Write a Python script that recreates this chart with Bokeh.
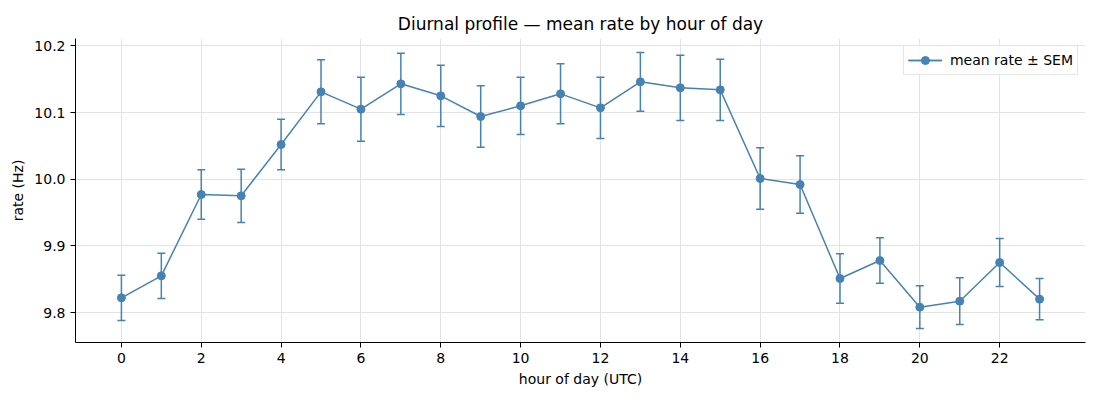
import numpy as np
from bokeh.plotting import figure
from bokeh.models import ColumnDataSource, FixedTicker, Range1d, Legend, LegendItem, NumeralTickFormatter
from bokeh.embed import file_html
from bokeh.resources import INLINE

hours = list(range(24))
mean_rate = [9.822, 9.855, 9.977, 9.975, 10.052, 10.131, 10.105, 10.143, 10.125, 10.094,
             10.110, 10.128, 10.107, 10.146, 10.137, 10.134, 10.001, 9.992, 9.851, 9.878,
             9.808, 9.817, 9.875, 9.820]
sem = [0.034, 0.034, 0.037, 0.040, 0.038, 0.048, 0.048, 0.046, 0.046, 0.046,
       0.043, 0.045, 0.046, 0.044, 0.049, 0.046, 0.046, 0.043, 0.037, 0.034,
       0.032, 0.035, 0.036, 0.031]
x_ticks = list(range(0, 24, 2))
y_ticks = [9.8, 9.9, 10.0, 10.1, 10.2]

m = np.array(mean_rate)
s = np.array(sem)
src = ColumnDataSource(dict(x=hours, y=mean_rate, lo=list(m - s), hi=list(m + s)))

C = "#4682b4"
FONT = "DejaVu Sans"

p = figure(width=1092, height=392, output_backend="svg", toolbar_location=None,
           x_range=Range1d(-1.15, 24.15), y_range=Range1d(9.755, 10.211),
           min_border_left=75, min_border_right=7, min_border_top=38, min_border_bottom=50,
           title="Diurnal profile — mean rate by hour of day")
p.title.align = "center"
p.title.text_font = FONT
p.title.text_font_size = "17px"
p.title.text_font_style = "normal"
p.title.text_color = "black"
p.title.offset = 0
p.outline_line_color = None

seg = p.segment(x0="x", y0="lo", x1="x", y1="hi", source=src, line_color=C, line_width=1.5)
cap_lo = p.scatter(x="x", y="lo", source=src, marker="dash", size=8, line_color=C, line_width=1.5)
cap_hi = p.scatter(x="x", y="hi", source=src, marker="dash", size=8, line_color=C, line_width=1.5)
ln = p.line(x="x", y="y", source=src, line_color=C, line_width=1.5)
pts = p.scatter(x="x", y="y", source=src, marker="circle", size=8, fill_color=C, line_color=C)

legend = Legend(items=[LegendItem(label="mean rate ± SEM", renderers=[ln, seg, pts])],
                location="top_right", label_text_font=FONT, label_text_font_size="14px",
                label_text_color="black",
                border_line_color="#cccccc", border_line_width=1, background_fill_alpha=0.8,
                margin=7, padding=4, spacing=0, glyph_width=34, label_standoff=8)
p.add_layout(legend)

for ax in (p.xaxis, p.yaxis):
    ax.axis_line_color = "black"
    ax.major_tick_line_color = "black"
    ax.major_tick_out = 5
    ax.major_tick_in = 0
    ax.minor_tick_line_color = None
    ax.major_label_text_font = FONT
    ax.major_label_text_font_size = "14px"
    ax.major_label_text_color = "black"
    ax.axis_label_text_font = FONT
    ax.axis_label_text_font_size = "14px"
    ax.axis_label_text_font_style = "normal"
    ax.axis_label_text_color = "black"

p.xaxis.ticker = FixedTicker(ticks=x_ticks)
p.yaxis.ticker = FixedTicker(ticks=y_ticks)
p.yaxis.formatter = NumeralTickFormatter(format="0.0")
p.xaxis.axis_label = "hour of day (UTC)"
p.yaxis.axis_label = "rate (Hz)"

p.xgrid.ticker = FixedTicker(ticks=x_ticks)
p.ygrid.ticker = FixedTicker(ticks=y_ticks)
for g in (p.xgrid, p.ygrid):
    g.grid_line_color = "#e3e3e3"
    g.grid_line_width = 1

open("out.html", "w").write(file_html(p, INLINE))
